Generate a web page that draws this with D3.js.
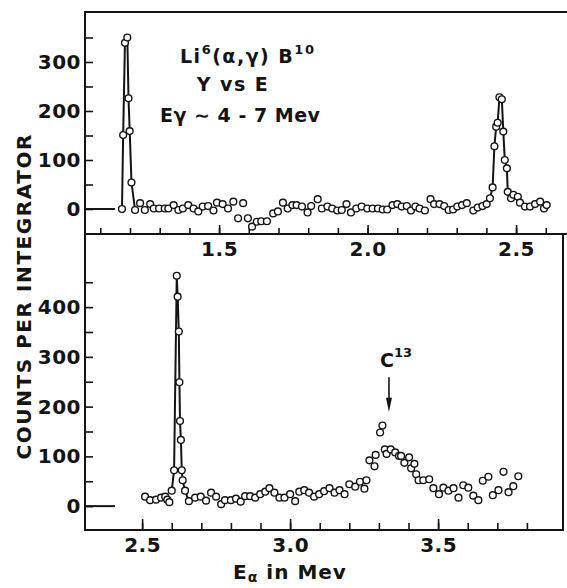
<!DOCTYPE html>
<meta charset="utf-8">
<title>Li6(a,g)B10 yield vs E</title>
<script src="https://d3js.org/d3.v7.min.js"></script>
<style>
  body { margin: 0; background: #fff; }
  svg text { font-family: "DejaVu Sans", sans-serif; font-weight: bold; fill: #141414; }
  .dot { fill: #fff; stroke: #141414; stroke-width: 1.4px; }
  .peak { fill: none; stroke: #141414; stroke-width: 2px; }
  .frame { stroke: #141414; stroke-width: 2px; }
  .axis line { stroke: #141414; stroke-width: 1.6px; }
  .axis path { display: none; }
</style>
<div id="chart"></div>
<script>
// ---- top panel: Li6(a,g)B10, E alpha 1.1 - 2.6 Mev
var topE = [1.173, 1.177, 1.183, 1.191, 1.195, 1.199, 1.205, 1.217, 1.234, 1.250,
  1.268, 1.280, 1.298, 1.317, 1.329, 1.347, 1.363, 1.378, 1.396, 1.414,
  1.430, 1.445, 1.463, 1.481, 1.493, 1.512, 1.530, 1.548, 1.564, 1.581,
  1.597, 1.611, 1.627, 1.642, 1.661, 1.682, 1.698, 1.715, 1.731, 1.747,
  1.761, 1.779, 1.798, 1.810, 1.832, 1.846, 1.865, 1.881, 1.898, 1.913,
  1.929, 1.944, 1.962, 1.980, 1.999, 2.017, 2.035, 2.051, 2.066, 2.084,
  2.100, 2.115, 2.132, 2.146, 2.161, 2.175, 2.193, 2.212, 2.224, 2.242,
  2.258, 2.273, 2.288, 2.302, 2.318, 2.334, 2.356, 2.371, 2.387, 2.401,
  2.412, 2.421, 2.427, 2.433, 2.438, 2.444, 2.452, 2.457, 2.462, 2.469,
  2.472, 2.483, 2.491, 2.506, 2.513, 2.530, 2.547, 2.564, 2.581, 2.594, 2.603];
var topCounts = [0, 151, 339, 350, 226, 159, 54, -2, 12, -2,
  10, 1, 1, 1, 1, 8, -2, 1, 8, 1,
  -5, 5, 6, -3, 13, 10, 1, 15, -19, 12,
  -19, -36, -26, -25, -25, -9, -5, 13, 1, 8,
  8, 5, -7, 6, 20, 1, 5, 1, -3, -2,
  10, -7, 1, 5, 1, 1, 1, -1, -1, 8,
  10, 5, 6, -3, 5, 1, -3, 20, 10, 10,
  6, -2, -1, 5, 8, 12, -3, 3, 6, 10,
  22, 44, 128, 168, 176, 228, 224, 158, 100, 83,
  35, 22, 29, 25, 13, 5, 5, 10, 15, 1, 8];
var topPeaks = [[1.17, 1.22], [2.405, 2.475]];

// ---- bottom panel: E alpha 2.5 - 3.8 Mev
var botE = [2.510, 2.527, 2.547, 2.564, 2.578, 2.585, 2.592, 2.600, 2.608, 2.617,
  2.620, 2.624, 2.626, 2.628, 2.631, 2.634, 2.637, 2.645, 2.658, 2.679,
  2.698, 2.716, 2.733, 2.750, 2.767, 2.780, 2.800, 2.817, 2.833, 2.848,
  2.865, 2.882, 2.899, 2.916, 2.930, 2.947, 2.964, 2.981, 3.000, 3.017,
  3.031, 3.048, 3.064, 3.081, 3.098, 3.115, 3.133, 3.150, 3.167, 3.184,
  3.200, 3.220, 3.236, 3.251, 3.258, 3.268, 3.285, 3.289, 3.304, 3.312,
  3.320, 3.326, 3.340, 3.355, 3.368, 3.375, 3.386, 3.402, 3.409, 3.420,
  3.426, 3.434, 3.450, 3.470, 3.484, 3.503, 3.518, 3.535, 3.552, 3.569,
  3.585, 3.602, 3.619, 3.636, 3.651, 3.670, 3.685, 3.704, 3.721, 3.738,
  3.754, 3.771];
var botCounts = [19, 12, 13, 17, 19, 13, 8, 31, 72, 463,
  421, 351, 249, 171, 133, 72, 52, 31, 10, 17,
  19, 11, 27, 19, 4, 12, 12, 15, 9, 20,
  20, 17, 24, 29, 36, 27, 17, 17, 24, 10,
  29, 32, 27, 19, 24, 30, 36, 27, 32, 24,
  44, 39, 49, 35, 52, 92, 80, 103, 148, 162,
  114, 105, 114, 108, 101, 101, 87, 98, 76, 85,
  64, 52, 52, 54, 36, 24, 37, 31, 36, 17,
  42, 37, 21, 12, 51, 59, 22, 32, 69, 28,
  40, 60];
var botPeaks = [[2.598, 2.66]];

// ticks
var topXTicks = [1.1, 1.2, 1.3, 1.4, 1.5, 1.6, 1.7, 1.8, 1.9, 2.0, 2.1, 2.2, 2.3, 2.4, 2.5, 2.6];
var topXLabels = [1.5, 2.0, 2.5];
var botXTicks = [2.5, 2.6, 2.7, 2.8, 2.9, 3.0, 3.1, 3.2, 3.3, 3.4, 3.5, 3.6, 3.7, 3.8];
var botXLabels = [2.5, 3.0, 3.5];
var topYTicks = [0, 50, 100, 150, 200, 250, 300, 350];
var topYLabels = [0, 100, 200, 300];
var botYTicks = [0, 50, 100, 150, 200, 250, 300, 350, 400, 450];
var botYLabels = [0, 100, 200, 300, 400];

var W = 567, H = 588;
var fr = {left: 85, right: 563, top: 12, mid: 234, bottom: 530};

var svg = d3.select("#chart").append("svg")
    .attr("width", W)
    .attr("height", H);

var xTop = d3.scaleLinear().domain([1.0485, 2.658]).range([fr.left, fr.right]);
var yTop = d3.scaleLinear().domain([-51, 402]).range([fr.mid, fr.top]);
var xBot = d3.scaleLinear().domain([2.307, 3.922]).range([fr.left, fr.right]);
var yBot = d3.scaleLinear().domain([-48, 547]).range([fr.bottom, fr.mid]);

// frame
svg.append("line").attr("class", "frame").attr("x1", fr.left).attr("x2", W).attr("y1", fr.top).attr("y2", fr.top);
svg.append("line").attr("class", "frame").attr("x1", fr.left).attr("x2", W).attr("y1", fr.mid).attr("y2", fr.mid);
svg.append("line").attr("class", "frame").attr("x1", fr.left).attr("x2", fr.right).attr("y1", fr.bottom).attr("y2", fr.bottom);
svg.append("line").attr("class", "frame").attr("x1", fr.left).attr("x2", fr.left).attr("y1", fr.top - 1).attr("y2", fr.bottom + 1);
svg.append("line").attr("class", "frame").attr("x1", fr.right).attr("x2", fr.right).attr("y1", fr.mid).attr("y2", fr.bottom + 1);

function styleLabels(g) {
  g.selectAll("text")
    .style("font-size", "20px")
    .style("letter-spacing", "0.5px")
    .attr("fill", "#141414");
  g.attr("font-family", null).attr("font-size", null);
}

// x axes (ticks point up into the panel, labels below)
function xAxis(scale, yPos, ticks, labels, minor, major) {
  svg.append("g").attr("class", "axis")
      .attr("transform", "translate(0," + yPos + ")")
      .call(d3.axisBottom(scale).tickValues(ticks).tickSize(-minor).tickFormat(""));
  var g = svg.append("g").attr("class", "axis")
      .attr("transform", "translate(0," + yPos + ")")
      .call(d3.axisBottom(scale).tickValues(labels).tickSize(-major).tickPadding(3).tickFormat(d3.format(".1f")));
  styleLabels(g);
  g.selectAll("text").attr("dy", "0.95em");
}
xAxis(xTop, fr.mid, topXTicks, topXLabels, 6, 9);
xAxis(xBot, fr.bottom, botXTicks, botXLabels, 7, 11);

// y axes (ticks inward)
function yAxis(scale, ticks, labels) {
  svg.append("g").attr("class", "axis")
      .attr("transform", "translate(" + fr.left + ",0)")
      .call(d3.axisLeft(scale).tickValues(ticks).tickSize(-8).tickFormat(""));
  var g = svg.append("g").attr("class", "axis")
      .attr("transform", "translate(" + fr.left + ",0)")
      .call(d3.axisLeft(scale).tickValues(labels).tickSize(0).tickPadding(4).tickFormat(d3.format("d")));
  styleLabels(g);
  // zero level drawn as a longer stub
  svg.append("line").attr("class", "frame")
      .attr("x1", fr.left).attr("x2", fr.left + 30)
      .attr("y1", scale(0)).attr("y2", scale(0));
}
yAxis(yTop, topYTicks, topYLabels);
yAxis(yBot, botYTicks, botYLabels);

// data
function drawSeries(E, C, peaks, x, y) {
  var pts = E.map(function(e, i) { return {e: e, c: C[i]}; });
  var line = d3.line().x(function(d) { return x(d.e); }).y(function(d) { return y(d.c); });
  peaks.forEach(function(r) {
    svg.append("path").attr("class", "peak")
        .attr("d", line(pts.filter(function(d) { return d.e >= r[0] && d.e <= r[1]; })));
  });
  svg.selectAll(null).data(pts).enter().append("circle")
      .attr("class", "dot")
      .attr("cx", function(d) { return x(d.e); })
      .attr("cy", function(d) { return y(d.c); })
      .attr("r", 3.4);
}
drawSeries(topE, topCounts, topPeaks, xTop, yTop);
drawSeries(botE, botCounts, botPeaks, xBot, yBot);

// annotation, top panel
var t1 = svg.append("text").attr("x", 180).attr("y", 63).style("font-size", "19px").style("letter-spacing", "1.5px");
t1.append("tspan").text("Li");
t1.append("tspan").attr("dy", -9).style("font-size", "13px").text("6");
t1.append("tspan").attr("dy", 9).text("(α,γ) B");
t1.append("tspan").attr("dy", -9).style("font-size", "13px").text("10");
svg.append("text").attr("x", 233).attr("y", 91).attr("text-anchor", "middle")
    .style("font-size", "19px").style("letter-spacing", "1.5px").text("Y vs E");
svg.append("text").attr("x", 160).attr("y", 122)
    .style("font-size", "19px").style("letter-spacing", "0.5px").text("Eγ ∼ 4 - 7 Mev");

// C13 marker, bottom panel
var arrowE = 3.334;
var c13 = svg.append("text").attr("x", xBot(arrowE) - 9).attr("y", yBot(279)).style("font-size", "19px");
c13.append("tspan").text("C");
c13.append("tspan").attr("dy", -10).style("font-size", "13px").text("13");
svg.append("line").attr("class", "frame").style("stroke-width", "1.6px")
    .attr("x1", xBot(arrowE)).attr("x2", xBot(arrowE))
    .attr("y1", yBot(259)).attr("y2", yBot(200));
svg.append("path")
    .attr("d", "M" + (xBot(arrowE) - 3) + "," + yBot(218) + "L" + (xBot(arrowE) + 3) + "," + yBot(218) +
               "L" + xBot(arrowE) + "," + yBot(189) + "Z")
    .attr("fill", "#141414");

// axis titles
svg.append("text")
    .attr("transform", "translate(31,297) rotate(-90)")
    .attr("text-anchor", "middle")
    .attr("textLength", 325).attr("lengthAdjust", "spacing")
    .style("font-size", "20px")
    .text("COUNTS PER INTEGRATOR");
var xt = svg.append("text").attr("x", 290).attr("y", 579).attr("text-anchor", "middle")
    .style("font-size", "20px").style("letter-spacing", "1px");
xt.append("tspan").text("E");
xt.append("tspan").attr("dy", 3).style("font-size", "14px").text("α");
xt.append("tspan").attr("dy", -3).text(" in Mev");
</script>
